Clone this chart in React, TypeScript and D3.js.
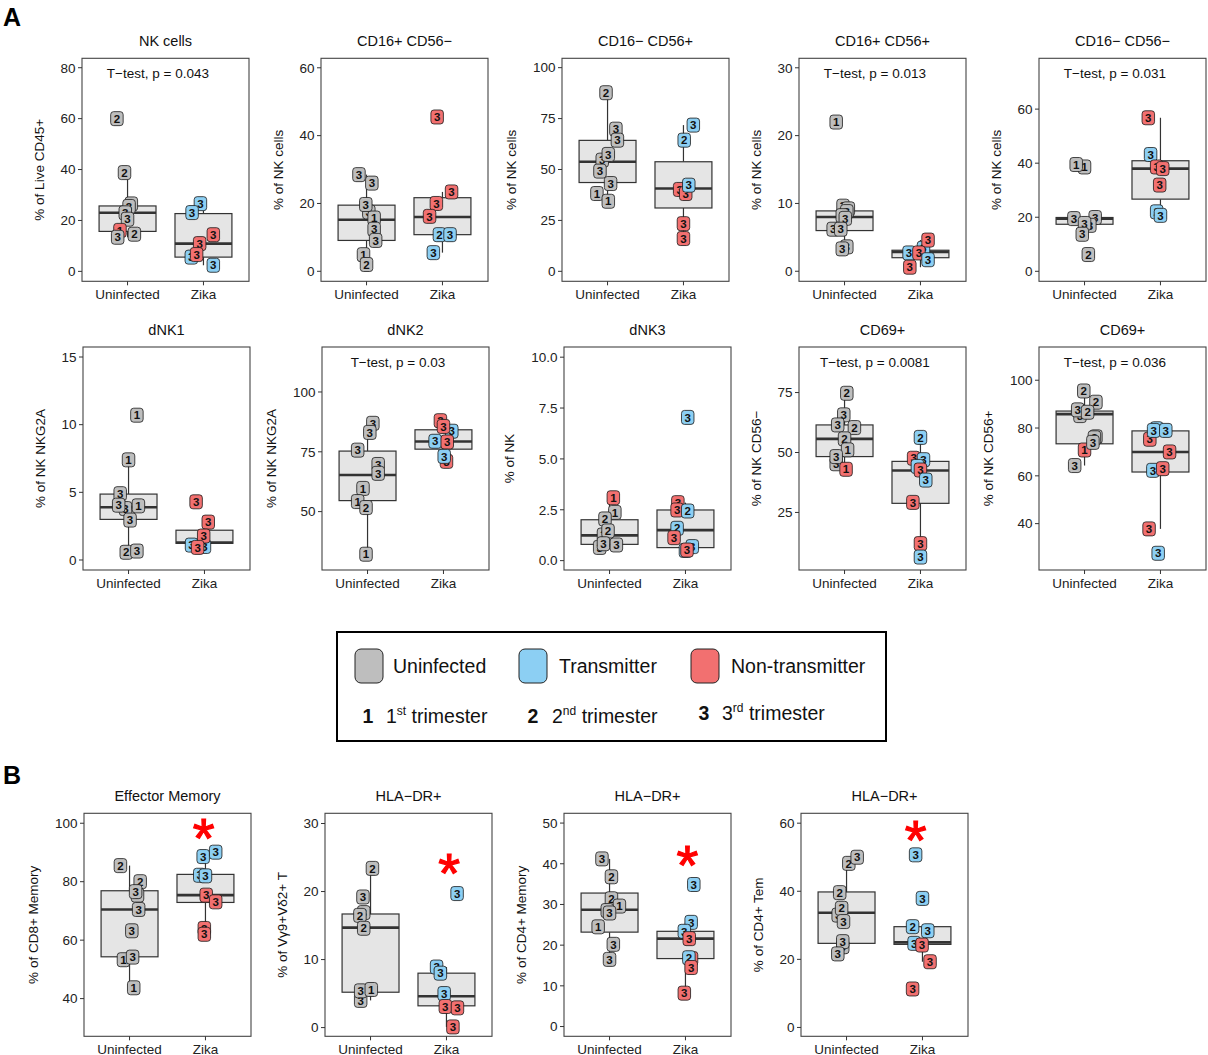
import React from "react";
import * as d3 from "d3";

type Pt = [number, string, number, number, number]; // [category, status, trimester, value, jitter]
type Box = [number, number, number, number, number]; // [lower, q1, median, q3, upper]

const CATEGORIES = ["Uninfected", "Zika"];
const STATUS_FILL: Record<string, string> = { U: "#BEBEBE", T: "#8CCFF3", N: "#F27070" };
const FONT = "'Liberation Sans', Arial, Helvetica, sans-serif";

// ---------- Panel A, row 1 ----------
const nkCellsPts: Pt[] = [
  [0, "U", 2, 60, -0.14], [0, "U", 2, 38.8, -0.04], [0, "U", 3, 26.5, 0.05], [0, "U", 3, 25.5, 0.02],
  [0, "U", 3, 23, -0.03], [0, "U", 3, 20.5, 0.0], [0, "N", 1, 16.1, -0.1], [0, "U", 3, 13.4, -0.13],
  [0, "U", 2, 14.6, 0.09],
  [1, "T", 3, 26.6, -0.04], [1, "T", 3, 23.1, -0.15], [1, "N", 3, 14.4, 0.13], [1, "N", 3, 10.9, -0.05],
  [1, "T", 3, 5.6, -0.16], [1, "N", 3, 6.6, -0.09], [1, "T", 3, 2.4, 0.13],
];
const nkCellsBox: Box[] = [[13.4, 15.7, 23, 25.7, 38.8], [2.4, 5.6, 10.9, 22.7, 26.6]];

const cd16pCd56nPts: Pt[] = [
  [0, "U", 3, 28.5, -0.1], [0, "U", 3, 26, 0.07], [0, "U", 3, 17.5, 0.03], [0, "U", 1, 15.7, 0.1],
  [0, "U", 3, 19.7, -0.01], [0, "U", 3, 12.4, 0.1], [0, "U", 3, 9.1, 0.12], [0, "U", 1, 4.9, -0.04],
  [0, "U", 2, 2.0, 0],
  [1, "N", 3, 45.5, -0.07], [1, "N", 3, 23.4, 0.12], [1, "N", 3, 20, -0.08], [1, "N", 3, 16.2, -0.17],
  [1, "T", 2, 10.8, -0.04], [1, "T", 3, 10.8, 0.1], [1, "T", 3, 5.5, -0.12],
];
const cd16pCd56nBox: Box[] = [[2.0, 9.1, 15.2, 19.5, 28.5], [5.5, 10.8, 16, 21.7, 23.4]];

const cd16nCd56pPts: Pt[] = [
  [0, "U", 2, 87.7, -0.02], [0, "U", 3, 69.8, 0.11], [0, "U", 3, 64.4, 0.13], [0, "U", 3, 54.6, -0.07],
  [0, "U", 3, 57.4, 0.01], [0, "U", 3, 49.2, -0.1], [0, "U", 3, 43.1, 0.04], [0, "U", 1, 38.2, -0.14],
  [0, "U", 1, 34.4, 0.01],
  [1, "T", 3, 71.8, 0.13], [1, "T", 2, 64.4, 0.01], [1, "N", 3, 40.2, -0.05], [1, "N", 3, 38.2, 0.03],
  [1, "T", 3, 42.3, 0.07], [1, "N", 3, 23.4, 0], [1, "N", 3, 16.1, 0],
];
const cd16nCd56pBox: Box[] = [[34.4, 43.6, 53.8, 64.3, 87.7], [16.1, 31.1, 40.7, 53.8, 71.8]];

const cd16pCd56pPts: Pt[] = [
  [0, "U", 1, 22, -0.11], [0, "U", 3, 9.6, -0.02], [0, "U", 3, 9.2, 0.05], [0, "U", 3, 8.8, 0.03],
  [0, "U", 3, 8.2, -0.03], [0, "U", 3, 7.8, 0.01], [0, "U", 3, 6.2, -0.15], [0, "U", 3, 6.2, -0.05],
  [0, "U", 3, 3.6, 0.03], [0, "U", 3, 3.3, -0.03],
  [1, "T", 3, 3.4, 0.04], [1, "N", 3, 4.6, 0.1], [1, "T", 3, 2.7, -0.15], [1, "N", 3, 2.7, -0.02],
  [1, "T", 3, 1.7, 0.1], [1, "N", 3, 0.6, -0.14],
];
const cd16pCd56pBox: Box[] = [[3.3, 6.0, 8.0, 8.9, 9.6], [0.6, 2.0, 2.85, 3.1, 4.6]];

const cd16nCd56nPts: Pt[] = [
  [0, "U", 1, 38.6, 0.0], [0, "U", 1, 39.5, -0.11], [0, "U", 3, 19.5, -0.14], [0, "U", 3, 19.9, 0.14],
  [0, "U", 3, 17.0, 0.07], [0, "U", 3, 17.7, 0], [0, "U", 3, 13.7, -0.03], [0, "U", 2, 6.2, 0.05],
  [1, "N", 3, 56.8, -0.16], [1, "T", 3, 43.2, -0.13], [1, "N", 3, 38.6, -0.05], [1, "N", 3, 38, 0.03],
  [1, "N", 3, 31.9, -0.01], [1, "T", 2, 22, -0.05], [1, "T", 3, 20.7, 0],
];
const cd16nCd56nBox: Box[] = [[13.7, 17.4, 19.5, 19.9, 19.9], [20.7, 26.7, 38, 40.9, 56.8]];

// ---------- Panel A, row 2 ----------
const dnk1Pts: Pt[] = [
  [0, "U", 1, 10.7, 0.11], [0, "U", 1, 7.4, 0], [0, "U", 3, 4.9, -0.11], [0, "U", 3, 3.8, -0.04],
  [0, "U", 3, 4.05, -0.13], [0, "U", 1, 4.0, 0.13], [0, "U", 3, 2.95, 0.02], [0, "U", 2, 0.57, -0.03],
  [0, "U", 3, 0.66, 0.11],
  [1, "N", 3, 4.3, -0.11], [1, "N", 3, 2.8, 0.05], [1, "T", 3, 1.0, 0.0], [1, "T", 3, 1.1, -0.17],
  [1, "N", 3, 1.77, -0.01], [1, "N", 3, 0.93, -0.09],
];
const dnk1Box: Box[] = [[0.57, 3.0, 3.9, 4.87, 7.4], [0.93, 1.23, 1.28, 2.2, 2.8]];

const dnk2Pts: Pt[] = [
  [0, "U", 3, 86.9, 0.07], [0, "U", 3, 83.1, 0.03], [0, "U", 3, 75.7, -0.13], [0, "U", 3, 69.7, 0.14],
  [0, "U", 3, 66, 0.14], [0, "U", 1, 59.7, -0.06], [0, "U", 1, 54.2, -0.13], [0, "U", 2, 51.7, -0.02],
  [0, "U", 1, 32.2, -0.02],
  [1, "N", 3, 88, -0.04], [1, "T", 3, 83.6, 0.11], [1, "N", 3, 85.6, 0], [1, "T", 3, 79.4, -0.11],
  [1, "N", 3, 79.1, 0.05], [1, "N", 3, 71, 0.04], [1, "T", 3, 73.1, 0.01],
];
const dnk2Box: Box[] = [[32.2, 54.6, 65.3, 75.3, 86.9], [71, 76.1, 79.3, 84.2, 88]];

const dnk3Pts: Pt[] = [
  [0, "N", 1, 3.09, 0.05], [0, "U", 1, 2.37, 0.07], [0, "U", 2, 2.05, -0.06], [0, "U", 3, 1.26, -0.08],
  [0, "U", 2, 1.46, -0.02], [0, "U", 3, 0.65, -0.13], [0, "U", 3, 0.83, -0.08], [0, "U", 3, 0.77, 0.09],
  [1, "T", 3, 7.04, 0.03], [1, "N", 3, 2.85, -0.1], [1, "N", 3, 2.49, -0.11], [1, "T", 2, 2.44, 0.03],
  [1, "T", 2, 1.59, -0.11], [1, "N", 3, 1.13, -0.15], [1, "T", 3, 0.69, 0.09], [1, "T", 3, 0.5, 0.0],
  [1, "N", 3, 0.52, 0.02],
];
const dnk3Box: Box[] = [[0.65, 0.8, 1.24, 2.01, 3.09], [0.5, 0.64, 1.5, 2.49, 2.85]];

const cd69Cd56nPts: Pt[] = [
  [0, "U", 2, 74.7, 0.03], [0, "U", 3, 65.7, -0.01], [0, "U", 2, 60.4, 0.13], [0, "U", 3, 61.5, -0.09],
  [0, "U", 2, 55.7, 0], [0, "U", 1, 51.1, 0.04], [0, "U", 3, 45.3, -0.11], [0, "U", 3, 48.3, -0.11],
  [0, "N", 1, 43, 0.02],
  [1, "T", 2, 56.3, 0], [1, "N", 3, 47.6, -0.09], [1, "T", 3, 47, 0.04], [1, "T", 3, 44.2, -0.04],
  [1, "N", 3, 42.7, 0], [1, "T", 3, 38.5, 0.07], [1, "N", 3, 29.2, -0.1], [1, "N", 3, 12, 0],
  [1, "T", 3, 6.4, 0],
];
const cd69Cd56nBox: Box[] = [[43, 48.3, 55.7, 61.5, 74.7], [6.4, 28.8, 42.5, 46.3, 56.3]];

const cd69Cd56pPts: Pt[] = [
  [0, "U", 2, 95.5, -0.01], [0, "U", 2, 90.8, 0.15], [0, "U", 3, 85.2, -0.06], [0, "U", 3, 87.6, -0.09],
  [0, "U", 2, 86.6, 0.04], [0, "N", 1, 70.8, 0], [0, "U", 3, 76.3, 0.15], [0, "U", 3, 75.9, 0.13],
  [0, "U", 3, 74, 0.11], [0, "U", 3, 64.3, -0.13],
  [1, "N", 3, 75.3, -0.14], [1, "T", 3, 79.7, -0.05], [1, "T", 3, 79, -0.09], [1, "T", 3, 79, 0.07],
  [1, "N", 3, 70, 0.12], [1, "T", 3, 62.3, -0.1], [1, "N", 3, 63, 0.03], [1, "N", 3, 37.8, -0.15],
  [1, "T", 3, 27.6, -0.03],
];
const cd69Cd56pBox: Box[] = [[64.3, 73.4, 85.8, 87.1, 95.5], [37.8, 61.6, 70, 78.8, 79.7]];

// ---------- Panel B ----------
const effMemPts: Pt[] = [
  [0, "U", 2, 85.5, -0.12], [0, "U", 2, 80, 0.14], [0, "U", 3, 75.4, 0.105], [0, "U", 3, 76.6, 0.08],
  [0, "U", 3, 70.5, 0.12], [0, "U", 3, 63.2, 0.03], [0, "U", 1, 53.3, -0.08], [0, "U", 3, 54.2, 0.04],
  [0, "U", 1, 43.7, 0.055],
  [1, "T", 3, 88.6, -0.03], [1, "T", 3, 90.1, 0.135], [1, "T", 3, 82.2, -0.075], [1, "T", 3, 82, 0],
  [1, "N", 3, 75.4, 0.01], [1, "N", 3, 73.1, 0.135], [1, "N", 3, 64, -0.015], [1, "N", 3, 62, -0.015],
];
const effMemBox: Box[] = [[43.7, 54.3, 70.5, 76.9, 85.5], [62, 72.9, 75.4, 82.5, 88.6]];

const hlaVgPts: Pt[] = [
  [0, "U", 2, 23.4, 0.025], [0, "U", 3, 19.2, -0.1], [0, "U", 3, 16.9, -0.09], [0, "U", 2, 16.5, -0.14],
  [0, "U", 2, 14.6, -0.09], [0, "U", 3, 4.0, -0.13], [0, "U", 3, 5.4, -0.13], [0, "U", 1, 5.6, 0.01],
  [1, "T", 3, 19.7, 0.14], [1, "T", 3, 8.9, -0.13], [1, "T", 3, 8.0, -0.08], [1, "T", 3, 5.0, -0.03],
  [1, "N", 3, 3.1, -0.015], [1, "N", 3, 2.9, 0.145], [1, "N", 3, 0.1, 0.085],
];
const hlaVgBox: Box[] = [[4.0, 5.2, 14.7, 16.7, 23.4], [0.1, 3.2, 4.6, 8.0, 8.9]];

const hlaCd4MemPts: Pt[] = [
  [0, "U", 3, 41.2, -0.1], [0, "U", 2, 36.8, 0.025], [0, "U", 2, 31.4, 0.025], [0, "U", 1, 29.6, 0.13],
  [0, "U", 3, 28.5, -0.03], [0, "U", 3, 27.9, 0], [0, "U", 1, 24.5, -0.15], [0, "U", 3, 20.2, 0.05],
  [0, "U", 3, 16.5, 0],
  [1, "T", 3, 34.9, 0.11], [1, "T", 3, 25.6, 0.075], [1, "T", 3, 23.4, -0.015], [1, "N", 3, 21.6, 0.05],
  [1, "N", 3, 16.7, 0.08], [1, "T", 2, 16.9, 0.045], [1, "N", 3, 14.5, 0.075], [1, "N", 3, 8.2, -0.015],
];
const hlaCd4MemBox: Box[] = [[16.5, 23.2, 28.7, 32.8, 41.2], [8.2, 16.7, 21.6, 23.4, 25.6]];

const hlaCd4TemPts: Pt[] = [
  [0, "U", 2, 48.2, 0.03], [0, "U", 3, 50, 0.14], [0, "U", 2, 39.6, -0.09], [0, "U", 3, 33, -0.11],
  [0, "U", 2, 35, -0.065], [0, "U", 3, 31.1, -0.04], [0, "U", 3, 23.7, -0.05], [0, "U", 3, 25.2, -0.05],
  [0, "U", 3, 21.6, -0.115],
  [1, "T", 3, 50.7, -0.09], [1, "T", 3, 37.9, 0], [1, "T", 2, 29.6, -0.13], [1, "T", 3, 28.4, 0.07],
  [1, "T", 3, 24.7, -0.11], [1, "N", 3, 24.2, -0.005], [1, "N", 3, 19.3, 0.1], [1, "N", 3, 11.3, -0.13],
];
const hlaCd4TemBox: Box[] = [[21.6, 24.7, 33.7, 39.8, 50], [19.3, 24.4, 25, 29.6, 29.6]];

// ---------- Panel descriptors ----------
const TITLES = [
  "NK cells", "CD16+ CD56\u2212", "CD16\u2212 CD56+", "CD16+ CD56+", "CD16\u2212 CD56\u2212",
  "dNK1", "dNK2", "dNK3", "CD69+", "CD69+",
  "Effector Memory", "HLA\u2212DR+", "HLA\u2212DR+", "HLA\u2212DR+",
];
const YLABELS = [
  "% of Live CD45+", "% of NK cells", "% of NK cells", "% of NK cells", "% of NK cells",
  "% of NK NKG2A", "% of NK NKG2A", "% of NK", "% of NK CD56\u2212", "% of NK CD56+",
  "% of CD8+ Memory", "% of V\u03b39+V\u03b42+ T", "% of CD4+ Memory", "% of CD4+ Tem",
];
const YTICKS: number[][] = [
  [0, 20, 40, 60, 80], [0, 20, 40, 60], [0, 25, 50, 75, 100], [0, 10, 20, 30], [0, 20, 40, 60],
  [0, 5, 10, 15], [50, 75, 100], [0, 2.5, 5, 7.5, 10], [25, 50, 75], [40, 60, 80, 100],
  [40, 60, 80, 100], [0, 10, 20, 30], [0, 10, 20, 30, 40, 50], [0, 20, 40, 60],
];
const YDOMAINS: [number, number][] = [
  [-3.9, 83.7], [-2.95, 62.8], [-4.9, 104.6], [-1.48, 31.4], [-3.7, 78.8],
  [-0.74, 15.74], [25.6, 118.8], [-0.46, 10.5], [1, 94], [20.6, 113.9],
  [27.1, 103.4], [-1.28, 31.5], [-2.4, 52.4], [-2.6, 62.9],
];
const PVALUES: (string | null)[] = [
  "T\u2212test, p = 0.043", null, null, "T\u2212test, p = 0.013", "T\u2212test, p = 0.031",
  null, "T\u2212test, p = 0.03", null, "T\u2212test, p = 0.0081", "T\u2212test, p = 0.036",
  null, null, null, null,
];
// asterisk: [value, jitter] on the Zika category
const STARS: ([number, number] | null)[] = [
  null, null, null, null, null, null, null, null, null, null,
  [99.4, -0.025], [24.6, 0.035], [43, 0.025], [59, -0.09],
];
const POINTS: Pt[][] = [
  nkCellsPts, cd16pCd56nPts, cd16nCd56pPts, cd16pCd56pPts, cd16nCd56nPts,
  dnk1Pts, dnk2Pts, dnk3Pts, cd69Cd56nPts, cd69Cd56pPts,
  effMemPts, hlaVgPts, hlaCd4MemPts, hlaCd4TemPts,
];
const BOXES: Box[][] = [
  nkCellsBox, cd16pCd56nBox, cd16nCd56pBox, cd16pCd56pBox, cd16nCd56nBox,
  dnk1Box, dnk2Box, dnk3Box, cd69Cd56nBox, cd69Cd56pBox,
  effMemBox, hlaVgBox, hlaCd4MemBox, hlaCd4TemBox,
];

// layout (pixels)
const PANEL_W = 167;
const PANEL_H = 223;
const LAYOUT: [number, number][] = [
  [82, 58.3], [321, 58.3], [562, 58.3], [799, 58.3], [1039, 58.3],
  [83, 347], [322, 347], [564, 347], [799, 347], [1039, 347],
  [84, 813.3], [325, 813.3], [564, 813.3], [801, 813.3],
];

const LBL_W = 12.5;
const LBL_H = 14;

function textWidth(s: string) {
  let w = 0;
  for (const c of s) w += c === "." ? 3.75 : 7.5;
  return w;
}

function Panel({ i }: { i: number }) {
  const [left, top] = LAYOUT[i];
  const x = d3.scaleLinear().domain([-0.6, 1.6]).range([left, left + PANEL_W]);
  const y = d3.scaleLinear().domain(YDOMAINS[i]).range([top + PANEL_H, top]);
  const fmt = i === 7 ? d3.format(".1f") : d3.format("d");
  const tickLabels = YTICKS[i].map((t) => fmt(t));
  const maxW = d3.max(tickLabels, (s) => textWidth(s)) || 15;
  const halfBox = 0.375;
  const stroke = "#333333";
  const star = STARS[i];
  return (
    <g>
      <rect x={left} y={top} width={PANEL_W} height={PANEL_H} fill="#ffffff" />
      {BOXES[i].map((b, c) => (
        <g key={"b" + c}>
          <line x1={x(c)} x2={x(c)} y1={y(b[3])} y2={y(b[4])} stroke={stroke} strokeWidth={1.2} />
          <line x1={x(c)} x2={x(c)} y1={y(b[1])} y2={y(b[0])} stroke={stroke} strokeWidth={1.2} />
          <rect x={x(c - halfBox)} y={y(b[3])} width={x(c + halfBox) - x(c - halfBox)}
            height={y(b[1]) - y(b[3])} fill="#E5E5E5" stroke={stroke} strokeWidth={1.2} />
          <line x1={x(c - halfBox)} x2={x(c + halfBox)} y1={y(b[2])} y2={y(b[2])} stroke={stroke} strokeWidth={2.6} />
        </g>
      ))}
      {POINTS[i].map((p, k) => {
        const cx = x(p[0] + p[4]);
        const cy = y(p[3]);
        return (
          <g key={"p" + k}>
            <rect x={cx - LBL_W / 2} y={cy - LBL_H / 2} width={LBL_W} height={LBL_H} rx={3} ry={3}
              fill={STATUS_FILL[p[1]]} stroke="#1a1a1a" strokeWidth={0.8} />
            <text x={cx} y={cy + 4.2} textAnchor="middle" fontFamily={FONT} fontWeight="bold" fontSize={11.5} fill="#111">
              {p[2]}
            </text>
          </g>
        );
      })}
      {PVALUES[i] && (
        <text x={x(0.4)} y={top + 14.5 + 5} textAnchor="middle" fontFamily={FONT} fontSize={13.5} fill="#111">
          {PVALUES[i]}
        </text>
      )}
      {star && (
        <text x={x(1 + star[1])} y={y(star[0]) + 32} textAnchor="middle" fontFamily={FONT} fontSize={56}
          fill="#FF0000" stroke="#FF0000" strokeWidth={1.2}>
          *
        </text>
      )}
      <rect x={left} y={top} width={PANEL_W} height={PANEL_H} fill="none" stroke="#444" strokeWidth={1.1} />
      {YTICKS[i].map((t, k) => (
        <g key={"yt" + k}>
          <line x1={left - 4} x2={left} y1={y(t)} y2={y(t)} stroke="#333" strokeWidth={1} />
          <text x={left - 6.5} y={y(t) + 4.8} textAnchor="end" fontFamily={FONT} fontSize={13.5} fill="#222">
            {tickLabels[k]}
          </text>
        </g>
      ))}
      {CATEGORIES.map((cat, c) => (
        <g key={"xt" + c}>
          <line x1={x(c)} x2={x(c)} y1={top + PANEL_H} y2={top + PANEL_H + 4} stroke="#333" strokeWidth={1} />
          <text x={x(c)} y={top + PANEL_H + 18} textAnchor="middle" fontFamily={FONT} fontSize={13.5} fill="#222">
            {cat}
          </text>
        </g>
      ))}
      <text x={left + PANEL_W / 2} y={top - 12.5} textAnchor="middle" fontFamily={FONT} fontSize={14.5} fill="#111">
        {TITLES[i]}
      </text>
      <text
        transform={`translate(${left - maxW - 28},${top + PANEL_H / 2}) rotate(-90)`}
        textAnchor="middle" dominantBaseline="central" fontFamily={FONT} fontSize={13.5} fill="#111">
        {YLABELS[i]}
      </text>
    </g>
  );
}

const LEGEND_STATUS = [
  { key: "U", label: "Uninfected" },
  { key: "T", label: "Transmitter" },
  { key: "N", label: "Non-transmitter" },
];
const LEGEND_TRIMESTER = [
  { n: "1", sup: "st" },
  { n: "2", sup: "nd" },
  { n: "3", sup: "rd" },
];

function Legend() {
  const keyX = [369, 533, 705];
  const textX = [393, 559, 731];
  const numX = [368, 533, 704];
  const triX = [386, 552, 722];
  const triY = [723, 723, 720];
  return (
    <g fontFamily={FONT}>
      <rect x={337} y={632} width={549} height={109} fill="#fff" stroke="#000" strokeWidth={2} />
      {LEGEND_STATUS.map((s, k) => (
        <g key={s.key}>
          <rect x={keyX[k] - 14} y={649} width={28} height={34} rx={6} ry={6} fill={STATUS_FILL[s.key]}
            stroke="#222" strokeWidth={1} />
          <text x={textX[k]} y={673} fontSize={19.5} fill="#111">{s.label}</text>
        </g>
      ))}
      {LEGEND_TRIMESTER.map((t, k) => (
        <g key={t.n}>
          <text x={numX[k]} y={triY[k]} textAnchor="middle" fontSize={19.5} fontWeight="bold" fill="#111">{t.n}</text>
          <text x={triX[k]} y={triY[k]} fontSize={19.5} fill="#111">
            {t.n}
            <tspan fontSize={12} dy={-8}>{t.sup}</tspan>
            <tspan dy={8}>{" trimester"}</tspan>
          </text>
        </g>
      ))}
    </g>
  );
}

export default function App() {
  return (
    <svg width={1208} height={1055} viewBox="0 0 1208 1055"
      style={{ position: "absolute", left: 0, top: 0, background: "#fff" }}>
      <rect x={0} y={0} width={1208} height={1055} fill="#fff" />
      <text x={3} y={26} fontFamily={FONT} fontWeight="bold" fontSize={25} fill="#000">A</text>
      <text x={3} y={784} fontFamily={FONT} fontWeight="bold" fontSize={25} fill="#000">B</text>
      {TITLES.map((_, i) => (
        <Panel key={i} i={i} />
      ))}
      <Legend />
    </svg>
  );
}
